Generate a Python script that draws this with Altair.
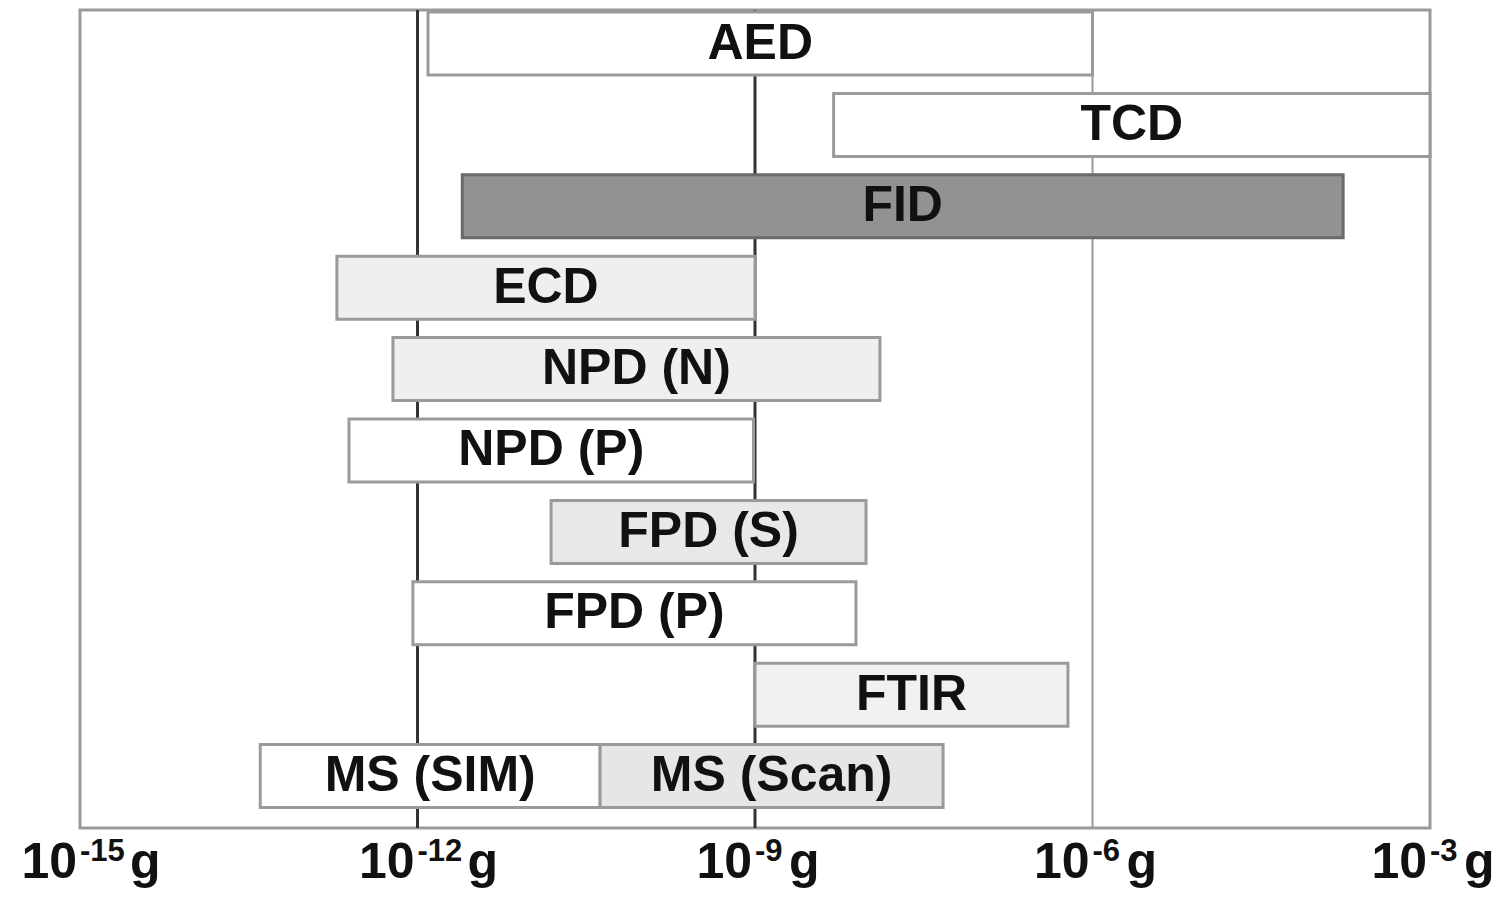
import altair as alt
import pandas as pd

# ---- data ----
names = ["AED", "TCD", "FID", "ECD", "NPD (N)", "NPD (P)", "FPD (S)", "FPD (P)", "FTIR", "MS (SIM)", "MS (Scan)"]
rows = ["AED", "TCD", "FID", "ECD", "NPD (N)", "NPD (P)", "FPD (S)", "FPD (P)", "FTIR", "MS", "MS"]
low = [1.24e-12, 5.0e-9, 2.5e-12, 1.92e-13, 6.05e-13, 2.46e-13, 1.54e-11, 9.1e-13, 1.0e-9, 4.0e-14, 4.2e-11]
high = [1.0e-6, 1.0e-3, 1.69e-4, 1.0e-9, 1.29e-8, 0.97e-9, 9.7e-9, 7.9e-9, 6.05e-7, 4.2e-11, 4.7e-8]
fills = ["#ffffff", "#ffffff", "#929292", "#efefef", "#efefef", "#ffffff", "#e8e8e8", "#ffffff", "#f1f1f1", "#ffffff", "#e6e6e6"]
strokes = ["#9a9a9a", "#9a9a9a", "#6a6a6a", "#9a9a9a", "#9a9a9a", "#9a9a9a", "#9a9a9a", "#9a9a9a", "#9a9a9a", "#9a9a9a", "#9a9a9a"]
row_order = ["AED", "TCD", "FID", "ECD", "NPD (N)", "NPD (P)", "FPD (S)", "FPD (P)", "FTIR", "MS"]

tick_values = [1e-15, 1e-12, 1e-9, 1e-6, 1e-3]
tick_base = ["10", "10", "10", "10", "10"]
tick_exp = ["-15", "-12", "-9", "-6", "-3"]
tick_unit = ["g", "g", "g", "g", "g"]

ref_x = [1e-12, 1e-9, 1e-6]
ref_color = ["#333333", "#333333", "#9a9a9a"]
ref_width = [3, 3, 2]

df = pd.DataFrame({"name": names, "row": rows, "lo": low, "hi": high, "fill": fills, "stroke": strokes})
refs = pd.DataFrame({"x": ref_x, "c": ref_color, "w": ref_width})
ticks = pd.DataFrame({"v": tick_values, "base": tick_base, "exp": tick_exp, "unit": tick_unit})

W, H = 1350, 818
xscale = alt.Scale(type="log", domain=[1e-15, 1e-3], nice=False)
yscale = alt.Scale(paddingInner=0.226, paddingOuter=0.138, align=0.09)
FONT = "Liberation Sans"
INK = "#111111"

rules = alt.Chart(refs).mark_rule().encode(
    x=alt.X("x:Q", scale=xscale, axis=None),
    color=alt.Color("c:N", scale=None),
    strokeWidth=alt.StrokeWidth("w:Q", scale=None),
)

bars = alt.Chart(df).mark_bar(strokeWidth=3).encode(
    x=alt.X("lo:Q", scale=xscale, axis=None),
    x2="hi:Q",
    y=alt.Y("row:N", sort=row_order, scale=yscale, axis=None),
    fill=alt.Fill("fill:N", scale=None),
    stroke=alt.Stroke("stroke:N", scale=None),
)

texts = alt.Chart(df).transform_calculate(
    mid="sqrt(datum.lo * datum.hi)"
).mark_text(font=FONT, fontWeight="bold", fontSize=50, color=INK,
            align="center", baseline="middle").encode(
    x=alt.X("mid:Q", scale=xscale, axis=None),
    y=alt.Y("row:N", sort=row_order, scale=yscale, axis=None),
    text="name:N",
)

# tick labels: "10" + superscript exponent + " g"
BASE_Y = H + 50
EXP_Y = H + 33
base_lbl = alt.Chart(ticks).mark_text(font=FONT, fontWeight="bold", fontSize=50, color=INK,
                                      align="right", baseline="alphabetic", dx=-3).encode(
    x=alt.X("v:Q", scale=xscale, axis=None), y=alt.value(BASE_Y), text="base:N")
exp_lbl = alt.Chart(ticks).mark_text(font=FONT, fontWeight="bold", fontSize=31, color=INK,
                                     align="left", baseline="alphabetic", dx=0).encode(
    x=alt.X("v:Q", scale=xscale, axis=None), y=alt.value(EXP_Y), text="exp:N")
unit_long = alt.Chart(ticks).transform_filter("length(datum.exp) == 3").mark_text(
    font=FONT, fontWeight="bold", fontSize=50, color=INK, align="left", baseline="alphabetic", dx=50).encode(
    x=alt.X("v:Q", scale=xscale, axis=None), y=alt.value(BASE_Y), text="unit:N")
unit_short = alt.Chart(ticks).transform_filter("length(datum.exp) == 2").mark_text(
    font=FONT, fontWeight="bold", fontSize=50, color=INK, align="left", baseline="alphabetic", dx=34).encode(
    x=alt.X("v:Q", scale=xscale, axis=None), y=alt.value(BASE_Y), text="unit:N")

chart = alt.layer(rules, bars, texts, base_lbl, exp_lbl, unit_long, unit_short).properties(
    width=W, height=H,
    autosize=alt.AutoSizeParams(type="none"),
    padding={"left": 72, "top": 2, "right": 64, "bottom": 62},
    background="#ffffff",
).configure_view(stroke="#9a9a9a", strokeWidth=3)

chart.save("out.html", embed_options={"renderer": "svg", "actions": False})
